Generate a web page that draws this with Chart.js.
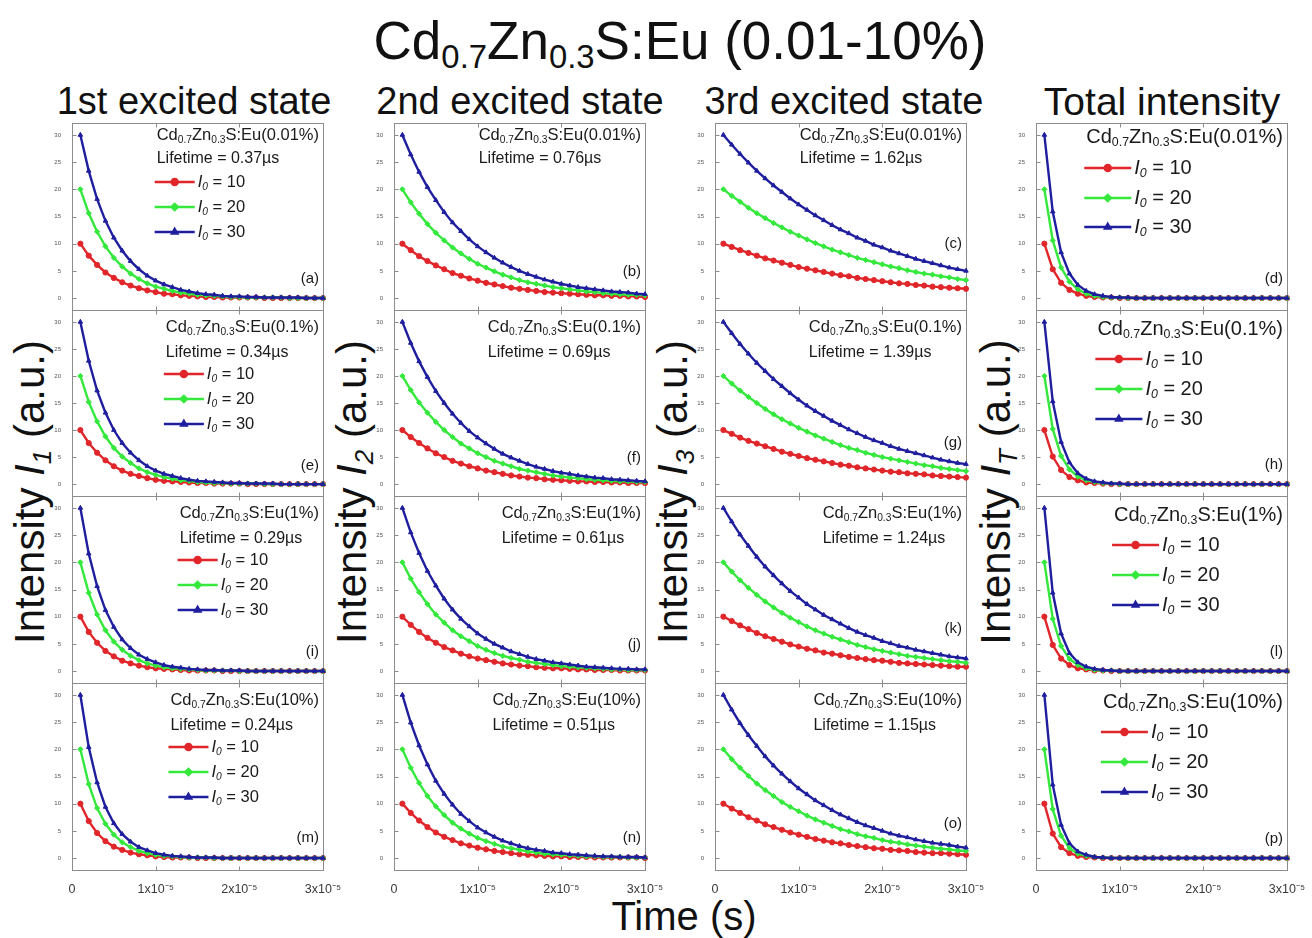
<!DOCTYPE html>
<html>
<head>
<meta charset="utf-8">
<script src="https://cdn.jsdelivr.net/npm/chart.js@4.4.1/dist/chart.umd.min.js"></script>
<style>
  body { margin: 0; width: 1312px; height: 938px; background: #fff; position: relative; overflow: hidden;
         font-family: "Liberation Sans", Arial, sans-serif; color: #111; }
  canvas { position: absolute; }
  .txt { position: absolute; white-space: nowrap; line-height: 1; }
  .txt sub { font-size: 0.62em; vertical-align: -0.3em; }
  .rot { transform: translate(-50%, -50%) rotate(-90deg); }
  .ctr { transform: translate(-50%, -50%); }
</style>
</head>
<body>
<div class="txt ctr" style="left:680px;top:44px;font-size:53px;">Cd<sub>0.7</sub>Zn<sub>0.3</sub>S:Eu (0.01-10%)</div>
<div class="txt ctr" style="left:194px;top:101px;font-size:38px;">1st excited state</div>
<div class="txt ctr" style="left:520px;top:101px;font-size:38px;">2nd excited state</div>
<div class="txt ctr" style="left:844px;top:101px;font-size:38px;">3rd excited state</div>
<div class="txt ctr" style="left:1162px;top:101px;font-size:39px;">Total intensity</div>
<div class="txt rot" style="left:32px;top:492px;font-size:42px;">Intensity <i>I</i><sub><i>1</i></sub> (a.u.)</div>
<div class="txt rot" style="left:354px;top:492px;font-size:42px;">Intensity <i>I</i><sub><i>2</i></sub> (a.u.)</div>
<div class="txt rot" style="left:675px;top:492px;font-size:42px;">Intensity <i>I</i><sub><i>3</i></sub> (a.u.)</div>
<div class="txt rot" style="left:998px;top:492px;font-size:42px;">Intensity <i>I</i><sub><i>T</i></sub> (a.u.)</div>
<div class="txt ctr" style="left:684px;top:916px;font-size:40px;">Time (s)</div>

<script>
// time axis (s) and tick marks
const TIME = [1e-6, 2e-6, 3e-6, 4e-6, 5e-6, 6e-6, 7e-6, 8e-6, 9e-6, 1e-5,
  1.1e-5, 1.2e-5, 1.3e-5, 1.4e-5, 1.5e-5, 1.6e-5, 1.7e-5, 1.8e-5, 1.9e-5, 2e-5,
  2.1e-5, 2.2e-5, 2.3e-5, 2.4e-5, 2.5e-5, 2.6e-5, 2.7e-5, 2.8e-5, 2.9e-5, 3e-5];
const X_TICKS = [0, 1e-5, 2e-5, 3e-5];
const X_TICK_LABELS = ['0', '1x10\u207B\u2075', '2x10\u207B\u2075', '3x10\u207B\u2075'];
const Y_TICKS = [0, 5, 10, 15, 20, 25, 30];

const DOPING = ['0.01%', '0.1%', '1%', '10%'];
const LIFETIME_1 = [0.37, 0.34, 0.29, 0.24];
const LIFETIME_2 = [0.76, 0.69, 0.61, 0.51];
const LIFETIME_3 = [1.62, 1.39, 1.24, 1.15];
const I0_LEVELS = [10, 20, 30];

// 1st excited state
const a10 = [10, 7.8, 6.1, 4.7, 3.7, 2.9, 2.3, 1.8, 1.4, 1.1, 0.8, 0.7, 0.5, 0.4, 0.3, 0.2, 0.2, 0.1, 0.1, 0.1, 0.1, 0.1, 0, 0, 0, 0, 0, 0, 0, 0];
const a20 = [20, 15.6, 12.2, 9.5, 7.4, 5.8, 4.5, 3.5, 2.7, 2.1, 1.7, 1.3, 1.0, 0.8, 0.6, 0.5, 0.4, 0.3, 0.2, 0.2, 0.1, 0.1, 0.1, 0.1, 0.1, 0, 0, 0, 0, 0];
const a30 = [30, 23.4, 18.2, 14.2, 11.1, 8.7, 6.8, 5.3, 4.1, 3.2, 2.5, 2.0, 1.5, 1.2, 0.9, 0.7, 0.6, 0.4, 0.3, 0.3, 0.2, 0.2, 0.1, 0.1, 0.1, 0.1, 0.1, 0, 0, 0];
const e10 = [10, 7.6, 5.8, 4.4, 3.3, 2.5, 1.9, 1.5, 1.1, 0.8, 0.6, 0.5, 0.4, 0.3, 0.2, 0.2, 0.1, 0.1, 0.1, 0.1, 0, 0, 0, 0, 0, 0, 0, 0, 0, 0];
const e20 = [20, 15.2, 11.6, 8.8, 6.7, 5.1, 3.9, 2.9, 2.2, 1.7, 1.3, 1.0, 0.7, 0.6, 0.4, 0.3, 0.2, 0.2, 0.1, 0.1, 0.1, 0.1, 0, 0, 0, 0, 0, 0, 0, 0];
const e30 = [30, 22.8, 17.3, 13.2, 10.0, 7.6, 5.8, 4.4, 3.3, 2.5, 1.9, 1.5, 1.1, 0.8, 0.6, 0.5, 0.4, 0.3, 0.2, 0.2, 0.1, 0.1, 0.1, 0.1, 0, 0, 0, 0, 0, 0];
const i10 = [10, 7.2, 5.2, 3.7, 2.7, 1.9, 1.4, 1.0, 0.7, 0.5, 0.4, 0.3, 0.2, 0.1, 0.1, 0.1, 0.1, 0, 0, 0, 0, 0, 0, 0, 0, 0, 0, 0, 0, 0];
const i20 = [20, 14.4, 10.4, 7.5, 5.4, 3.9, 2.8, 2.0, 1.4, 1.0, 0.7, 0.5, 0.4, 0.3, 0.2, 0.1, 0.1, 0.1, 0.1, 0, 0, 0, 0, 0, 0, 0, 0, 0, 0, 0];
const i30 = [30, 21.6, 15.6, 11.2, 8.1, 5.8, 4.2, 3.0, 2.2, 1.6, 1.1, 0.8, 0.6, 0.4, 0.3, 0.2, 0.2, 0.1, 0.1, 0.1, 0, 0, 0, 0, 0, 0, 0, 0, 0, 0];
const m10 = [10, 6.8, 4.6, 3.1, 2.1, 1.5, 1.0, 0.7, 0.5, 0.3, 0.2, 0.1, 0.1, 0.1, 0, 0, 0, 0, 0, 0, 0, 0, 0, 0, 0, 0, 0, 0, 0, 0];
const m20 = [20, 13.6, 9.2, 6.3, 4.3, 2.9, 2.0, 1.3, 0.9, 0.6, 0.4, 0.3, 0.2, 0.1, 0.1, 0.1, 0, 0, 0, 0, 0, 0, 0, 0, 0, 0, 0, 0, 0, 0];
const m30 = [30, 20.4, 13.9, 9.4, 6.4, 4.4, 3.0, 2.0, 1.4, 0.9, 0.6, 0.4, 0.3, 0.2, 0.1, 0.1, 0.1, 0, 0, 0, 0, 0, 0, 0, 0, 0, 0, 0, 0, 0];

// 2nd excited state
const b10 = [10, 8.8, 7.7, 6.8, 6.0, 5.3, 4.6, 4.1, 3.6, 3.2, 2.8, 2.5, 2.2, 1.9, 1.7, 1.5, 1.3, 1.1, 1.0, 0.9, 0.8, 0.7, 0.6, 0.5, 0.5, 0.4, 0.4, 0.3, 0.3, 0.2];
const b20 = [20, 17.6, 15.5, 13.6, 12.0, 10.6, 9.3, 8.2, 7.2, 6.3, 5.6, 4.9, 4.3, 3.8, 3.3, 2.9, 2.6, 2.3, 2.0, 1.8, 1.6, 1.4, 1.2, 1.1, 0.9, 0.8, 0.7, 0.6, 0.6, 0.5];
const b30 = [30, 26.4, 23.2, 20.4, 18.0, 15.8, 13.9, 12.3, 10.8, 9.5, 8.4, 7.4, 6.5, 5.7, 5.0, 4.4, 3.9, 3.4, 3.0, 2.6, 2.3, 2.0, 1.8, 1.6, 1.4, 1.2, 1.1, 1.0, 0.8, 0.7];
const f10 = [10, 8.7, 7.6, 6.6, 5.7, 5.0, 4.3, 3.8, 3.3, 2.9, 2.5, 2.2, 1.9, 1.6, 1.4, 1.2, 1.1, 0.9, 0.8, 0.7, 0.6, 0.5, 0.5, 0.4, 0.4, 0.3, 0.3, 0.2, 0.2, 0.2];
const f20 = [20, 17.4, 15.1, 13.2, 11.5, 10.0, 8.7, 7.5, 6.6, 5.7, 5.0, 4.3, 3.8, 3.3, 2.8, 2.5, 2.2, 1.9, 1.6, 1.4, 1.2, 1.1, 0.9, 0.8, 0.7, 0.6, 0.5, 0.5, 0.4, 0.4];
const f30 = [30, 26.1, 22.7, 19.8, 17.2, 15.0, 13.0, 11.3, 9.8, 8.6, 7.5, 6.5, 5.6, 4.9, 4.3, 3.7, 3.2, 2.8, 2.4, 2.1, 1.9, 1.6, 1.4, 1.2, 1.1, 0.9, 0.8, 0.7, 0.6, 0.5];
const j10 = [10, 8.5, 7.2, 6.1, 5.2, 4.4, 3.8, 3.2, 2.7, 2.3, 2.0, 1.7, 1.4, 1.2, 1.0, 0.9, 0.7, 0.6, 0.5, 0.5, 0.4, 0.3, 0.3, 0.2, 0.2, 0.2, 0.1, 0.1, 0.1, 0.1];
const j20 = [20, 17.0, 14.5, 12.3, 10.4, 8.9, 7.5, 6.4, 5.5, 4.6, 3.9, 3.3, 2.8, 2.4, 2.1, 1.7, 1.5, 1.3, 1.1, 0.9, 0.8, 0.7, 0.6, 0.5, 0.4, 0.3, 0.3, 0.2, 0.2, 0.2];
const j30 = [30, 25.5, 21.7, 18.4, 15.7, 13.3, 11.3, 9.6, 8.2, 6.9, 5.9, 5.0, 4.3, 3.6, 3.1, 2.6, 2.2, 1.9, 1.6, 1.4, 1.2, 1.0, 0.8, 0.7, 0.6, 0.5, 0.4, 0.4, 0.3, 0.3];
const n10 = [10, 8.3, 6.9, 5.7, 4.7, 3.9, 3.3, 2.7, 2.3, 1.9, 1.6, 1.3, 1.1, 0.9, 0.7, 0.6, 0.5, 0.4, 0.3, 0.3, 0.2, 0.2, 0.2, 0.1, 0.1, 0.1, 0.1, 0.1, 0.1, 0];
const n20 = [20, 16.6, 13.8, 11.4, 9.5, 7.9, 6.5, 5.4, 4.5, 3.7, 3.1, 2.6, 2.1, 1.8, 1.5, 1.2, 1.0, 0.8, 0.7, 0.6, 0.5, 0.4, 0.3, 0.3, 0.2, 0.2, 0.2, 0.1, 0.1, 0.1];
const n30 = [30, 24.9, 20.7, 17.2, 14.2, 11.8, 9.8, 8.1, 6.8, 5.6, 4.7, 3.9, 3.2, 2.7, 2.2, 1.8, 1.5, 1.3, 1.0, 0.9, 0.7, 0.6, 0.5, 0.4, 0.3, 0.3, 0.2, 0.2, 0.2, 0.1];

// 3rd excited state
const c10 = [10, 9.4, 8.8, 8.3, 7.8, 7.3, 6.9, 6.5, 6.1, 5.7, 5.4, 5.1, 4.8, 4.5, 4.2, 4.0, 3.7, 3.5, 3.3, 3.1, 2.9, 2.7, 2.6, 2.4, 2.3, 2.1, 2.0, 1.9, 1.8, 1.7];
const c20 = [20, 18.8, 17.7, 16.6, 15.6, 14.7, 13.8, 13.0, 12.2, 11.5, 10.8, 10.1, 9.5, 8.9, 8.4, 7.9, 7.4, 7.0, 6.6, 6.2, 5.8, 5.5, 5.1, 4.8, 4.5, 4.3, 4.0, 3.8, 3.5, 3.3];
const c30 = [30, 28.2, 26.5, 24.9, 23.4, 22.0, 20.7, 19.5, 18.3, 17.2, 16.2, 15.2, 14.3, 13.4, 12.6, 11.9, 11.1, 10.5, 9.8, 9.3, 8.7, 8.2, 7.7, 7.2, 6.8, 6.4, 6.0, 5.6, 5.3, 5.0];
const g10 = [10, 9.3, 8.6, 8.0, 7.5, 7.0, 6.5, 6.0, 5.6, 5.2, 4.8, 4.5, 4.2, 3.9, 3.6, 3.4, 3.1, 2.9, 2.7, 2.5, 2.3, 2.2, 2.0, 1.9, 1.8, 1.6, 1.5, 1.4, 1.3, 1.2];
const g20 = [20, 18.6, 17.3, 16.1, 15.0, 13.9, 12.9, 12.0, 11.2, 10.4, 9.7, 9.0, 8.4, 7.8, 7.2, 6.7, 6.3, 5.8, 5.4, 5.0, 4.7, 4.4, 4.1, 3.8, 3.5, 3.3, 3.0, 2.8, 2.6, 2.4];
const g30 = [30, 27.9, 25.9, 24.1, 22.4, 20.9, 19.4, 18.1, 16.8, 15.6, 14.5, 13.5, 12.6, 11.7, 10.9, 10.1, 9.4, 8.7, 8.1, 7.6, 7.0, 6.5, 6.1, 5.7, 5.3, 4.9, 4.5, 4.2, 3.9, 3.7];
const k10 = [10, 9.2, 8.4, 7.7, 7.0, 6.4, 5.9, 5.4, 4.9, 4.5, 4.1, 3.8, 3.4, 3.2, 2.9, 2.6, 2.4, 2.2, 2.0, 1.9, 1.7, 1.5, 1.4, 1.3, 1.2, 1.1, 1.0, 0.9, 0.8, 0.8];
const k20 = [20, 18.3, 16.7, 15.3, 14.0, 12.8, 11.7, 10.7, 9.8, 9.0, 8.2, 7.5, 6.9, 6.3, 5.8, 5.3, 4.8, 4.4, 4.0, 3.7, 3.4, 3.1, 2.8, 2.6, 2.4, 2.2, 2.0, 1.8, 1.7, 1.5];
const k30 = [30, 27.5, 25.1, 23.0, 21.0, 19.2, 17.6, 16.1, 14.7, 13.5, 12.3, 11.3, 10.3, 9.5, 8.7, 7.9, 7.2, 6.6, 6.1, 5.5, 5.1, 4.6, 4.3, 3.9, 3.6, 3.3, 3.0, 2.7, 2.5, 2.3];
const o10 = [10, 9.1, 8.3, 7.5, 6.9, 6.2, 5.7, 5.2, 4.7, 4.3, 3.9, 3.5, 3.2, 2.9, 2.7, 2.4, 2.2, 2.0, 1.8, 1.7, 1.5, 1.4, 1.3, 1.1, 1.0, 0.9, 0.9, 0.8, 0.7, 0.6];
const o20 = [20, 18.2, 16.6, 15.1, 13.7, 12.5, 11.4, 10.3, 9.4, 8.6, 7.8, 7.1, 6.5, 5.9, 5.3, 4.9, 4.4, 4.0, 3.7, 3.3, 3.0, 2.8, 2.5, 2.3, 2.1, 1.9, 1.7, 1.6, 1.4, 1.3];
const o30 = [30, 27.3, 24.8, 22.6, 20.6, 18.7, 17.0, 15.5, 14.1, 12.8, 11.7, 10.6, 9.7, 8.8, 8.0, 7.3, 6.6, 6.0, 5.5, 5.0, 4.5, 4.1, 3.8, 3.4, 3.1, 2.8, 2.6, 2.4, 2.1, 1.9];

// total intensity
const d10 = [10, 5.3, 2.8, 1.5, 0.8, 0.4, 0.2, 0.1, 0.1, 0, 0, 0, 0, 0, 0, 0, 0, 0, 0, 0, 0, 0, 0, 0, 0, 0, 0, 0, 0, 0];
const d20 = [20, 10.6, 5.6, 3.0, 1.6, 0.8, 0.4, 0.2, 0.1, 0.1, 0, 0, 0, 0, 0, 0, 0, 0, 0, 0, 0, 0, 0, 0, 0, 0, 0, 0, 0, 0];
const d30 = [30, 15.9, 8.4, 4.5, 2.4, 1.3, 0.7, 0.4, 0.2, 0.1, 0.1, 0, 0, 0, 0, 0, 0, 0, 0, 0, 0, 0, 0, 0, 0, 0, 0, 0, 0, 0];
const h10 = [10, 5.1, 2.6, 1.3, 0.7, 0.3, 0.2, 0.1, 0, 0, 0, 0, 0, 0, 0, 0, 0, 0, 0, 0, 0, 0, 0, 0, 0, 0, 0, 0, 0, 0];
const h20 = [20, 10.2, 5.2, 2.7, 1.4, 0.7, 0.4, 0.2, 0.1, 0, 0, 0, 0, 0, 0, 0, 0, 0, 0, 0, 0, 0, 0, 0, 0, 0, 0, 0, 0, 0];
const h30 = [30, 15.3, 7.8, 4.0, 2.0, 1.0, 0.5, 0.3, 0.1, 0.1, 0, 0, 0, 0, 0, 0, 0, 0, 0, 0, 0, 0, 0, 0, 0, 0, 0, 0, 0, 0];
const l10 = [10, 4.8, 2.3, 1.1, 0.5, 0.3, 0.1, 0.1, 0, 0, 0, 0, 0, 0, 0, 0, 0, 0, 0, 0, 0, 0, 0, 0, 0, 0, 0, 0, 0, 0];
const l20 = [20, 9.6, 4.6, 2.2, 1.1, 0.5, 0.2, 0.1, 0.1, 0, 0, 0, 0, 0, 0, 0, 0, 0, 0, 0, 0, 0, 0, 0, 0, 0, 0, 0, 0, 0];
const l30 = [30, 14.4, 6.9, 3.3, 1.6, 0.8, 0.4, 0.2, 0.1, 0, 0, 0, 0, 0, 0, 0, 0, 0, 0, 0, 0, 0, 0, 0, 0, 0, 0, 0, 0, 0];
const p10 = [10, 4.5, 2.0, 0.9, 0.4, 0.2, 0.1, 0, 0, 0, 0, 0, 0, 0, 0, 0, 0, 0, 0, 0, 0, 0, 0, 0, 0, 0, 0, 0, 0, 0];
const p20 = [20, 9.0, 4.1, 1.8, 0.8, 0.4, 0.2, 0.1, 0, 0, 0, 0, 0, 0, 0, 0, 0, 0, 0, 0, 0, 0, 0, 0, 0, 0, 0, 0, 0, 0];
const p30 = [30, 13.5, 6.1, 2.7, 1.2, 0.6, 0.2, 0.1, 0, 0, 0, 0, 0, 0, 0, 0, 0, 0, 0, 0, 0, 0, 0, 0, 0, 0, 0, 0, 0, 0];

// grid of panels: rows = doping level, columns = state
const GRID = [
  [['a', a10, a20, a30], ['b', b10, b20, b30], ['c', c10, c20, c30], ['d', d10, d20, d30]],
  [['e', e10, e20, e30], ['f', f10, f20, f30], ['g', g10, g20, g30], ['h', h10, h20, h30]],
  [['i', i10, i20, i30], ['j', j10, j20, j30], ['k', k10, k20, k30], ['l', l10, l20, l30]],
  [['m', m10, m20, m30], ['n', n10, n20, n30], ['o', o10, o20, o30], ['p', p10, p20, p30]]
];
const LIFETIMES = [LIFETIME_1, LIFETIME_2, LIFETIME_3, null];

// layout: panel column lefts, row edges (shared borders)
const COL_X = [72, 394, 715, 1036];
const ROW_EDGES = [123, 310, 496, 683, 870];
const PW = 251;
const PAD_V = 8;
const LETTER_DY = [[31, 38, 66, 31], [30, 38, 53, 31], [31, 38, 54, 31], [32, 32, 46, 31]];

const RED = '#e0262a', GREEN = '#34e83c', BLUE = '#1e1e9e';
const COLORS = [RED, GREEN, BLUE];
const MARKERS = ['circle', 'rectRot', 'triangle'];
const FONT = '"Liberation Sans", Arial, sans-serif';
const FRAME = '#8c8c8c';

Chart.defaults.font.family = FONT;

// draw a run of text pieces: plain, italic, subscript
function drawRich(ctx, parts, x, y, size, measureOnly) {
  let cx = x;
  parts.forEach(([txt, kind]) => {
    const sub = kind === 'sub' || kind === 'itsub';
    const it = kind === 'it' || kind === 'itsub';
    const s = sub ? size * 0.62 : size;
    ctx.font = (it ? 'italic ' : '') + s + 'px ' + FONT;
    if (!measureOnly) ctx.fillText(txt, cx, sub ? y + size * 0.3 : y);
    cx += ctx.measureText(txt).width;
  });
  return cx - x;
}

// frame, inward ticks, labels and legend of one panel
const panelDecor = {
  id: 'panelDecor',
  beforeDatasetsDraw(chart) {
    const { ctx, chartArea: ca, scales } = chart;
    const L = Math.round(ca.left) + 0.5, T = Math.round(ca.top) + 0.5;
    const R = Math.round(ca.right) + 0.5, B = Math.round(ca.bottom) + 0.5;
    ctx.save();
    ctx.strokeStyle = FRAME;
    ctx.lineWidth = 1;
    ctx.strokeRect(L, T, R - L, B - T);
    ctx.beginPath();
    Y_TICKS.forEach(v => {
      const y = Math.round(scales.y.getPixelForValue(v)) + 0.5;
      ctx.moveTo(L, y); ctx.lineTo(L + 4, y);
    });
    X_TICKS.forEach(v => {
      const x = Math.round(scales.x.getPixelForValue(v)) + 0.5;
      ctx.moveTo(x, B); ctx.lineTo(x, B - 4);
      ctx.moveTo(x, T); ctx.lineTo(x, T + 4);
    });
    ctx.stroke();
    ctx.restore();
  },
  afterDraw(chart) {
    const { ctx, chartArea: ca } = chart;
    const o = chart.options.plugins.panelDecor;
    ctx.save();
    ctx.fillStyle = '#1a1a1a';
    ctx.textBaseline = 'middle';
    ctx.textAlign = 'left';
    const total = o.col === 3;
    const first = o.row === 0;
    const size = total ? 20 : 16.5;
    const cd = [['Cd'], ['0.7', 'sub'], ['Zn'], ['0.3', 'sub'], ['S:Eu(' + DOPING[o.row] + ')']];
    const w = drawRich(ctx, cd, 0, 0, size, true);
    const left = ca.right - 4 - w;
    drawRich(ctx, cd, left, ca.top + (total ? (first ? 14 : 19) : (first ? 12 : 17)), size);

    let legY;
    if (!total) {
      const lt = LIFETIMES[o.col][o.row];
      ctx.font = '16px ' + FONT;
      ctx.fillText('Lifetime = ' + lt.toFixed(2) + '\u00B5s', left, ca.top + (first ? 36 : 43));
      legY = first ? [59, 84, 109] : [64, 89, 114];
    } else {
      legY = first ? [45, 75, 104] : [49, 79, 109];
    }
    if (o.legend) {
      const lineLen = total ? 47 : 40;
      const ls = total ? 20 : 16.5;
      I0_LEVELS.forEach((lvl, k) => {
        const y = ca.top + legY[k];
        const x0 = left - 2;
        ctx.strokeStyle = COLORS[k];
        ctx.fillStyle = COLORS[k];
        ctx.lineWidth = 2.5;
        ctx.beginPath(); ctx.moveTo(x0, y); ctx.lineTo(x0 + lineLen, y); ctx.stroke();
        Chart.helpers.drawPoint(ctx, { pointStyle: MARKERS[k], radius: 3, borderWidth: 1, rotation: 0 }, x0 + lineLen / 2, y);
        ctx.fillStyle = '#1a1a1a';
        drawRich(ctx, [['I', 'it'], ['0', 'itsub'], [' = ' + lvl]], x0 + lineLen + 3, y, ls);
      });
    }

    ctx.font = '15px ' + FONT;
    ctx.textAlign = 'right';
    ctx.fillStyle = '#1a1a1a';
    ctx.fillText('(' + o.letter + ')', ca.right - 4, ca.bottom - LETTER_DY[o.row][o.col]);
    ctx.restore();
  }
};

function makePanel(row, col) {
  const [letter, s10, s20, s30] = GRID[row][col];
  const bottom = row === 3;
  const ph = ROW_EDGES[row + 1] - ROW_EDGES[row];
  const padR = bottom ? 24 : 5;
  const padB = bottom ? 0 : PAD_V;
  const cv = document.createElement('canvas');
  const W = 30 + PW + padR;
  const H = PAD_V + ph + (bottom ? 26 : PAD_V);
  cv.width = W; cv.height = H;
  cv.style.left = (COL_X[col] - 30) + 'px';
  cv.style.top = (ROW_EDGES[row] - PAD_V) + 'px';
  document.body.appendChild(cv);

  const series = [s30, s20, s10];
  const datasets = series.map((vals, k) => {
    const idx = 2 - k;
    return {
      data: TIME.map((t, i) => ({ x: t, y: vals[i] })),
      borderColor: COLORS[idx],
      backgroundColor: COLORS[idx],
      pointBackgroundColor: COLORS[idx],
      pointBorderColor: COLORS[idx],
      pointStyle: MARKERS[idx],
      pointRadius: 2.6,
      pointBorderWidth: 1,
      borderWidth: 2.4,
      tension: 0,
      clip: 6
    };
  });

  new Chart(cv, {
    type: 'line',
    data: { datasets },
    options: {
      responsive: false,
      animation: false,
      devicePixelRatio: 1,
      layout: { padding: { top: PAD_V, right: padR, bottom: padB, left: 0 } },
      plugins: {
        legend: { display: false },
        tooltip: { enabled: false },
        panelDecor: { row, col, letter, legend: col === 0 || col === 3 }
      },
      scales: {
        x: {
          type: 'linear', min: 0, max: 3e-5,
          afterBuildTicks: s => { s.ticks = X_TICKS.map(v => ({ value: v })); },
          afterFit: s => { s.height = bottom ? 26 : 0; },
          ticks: {
            display: bottom, autoSkip: false, maxRotation: 0, padding: 4,
            font: { size: 12.5 }, color: '#3a3a3a',
            callback: (v, i) => X_TICK_LABELS[i]
          },
          grid: { display: false },
          border: { display: false }
        },
        y: {
          min: -2.2, max: 32.2,
          afterBuildTicks: s => { s.ticks = Y_TICKS.map(v => ({ value: v })); },
          afterFit: s => { s.width = 30; },
          ticks: { font: { size: 6 }, color: '#555', padding: 3 },
          grid: { display: false },
          border: { display: false }
        }
      }
    },
    plugins: [panelDecor]
  });
}

for (let r = 0; r < 4; r++) {
  for (let c = 0; c < 4; c++) makePanel(r, c);
}
</script>
</body>
</html>
